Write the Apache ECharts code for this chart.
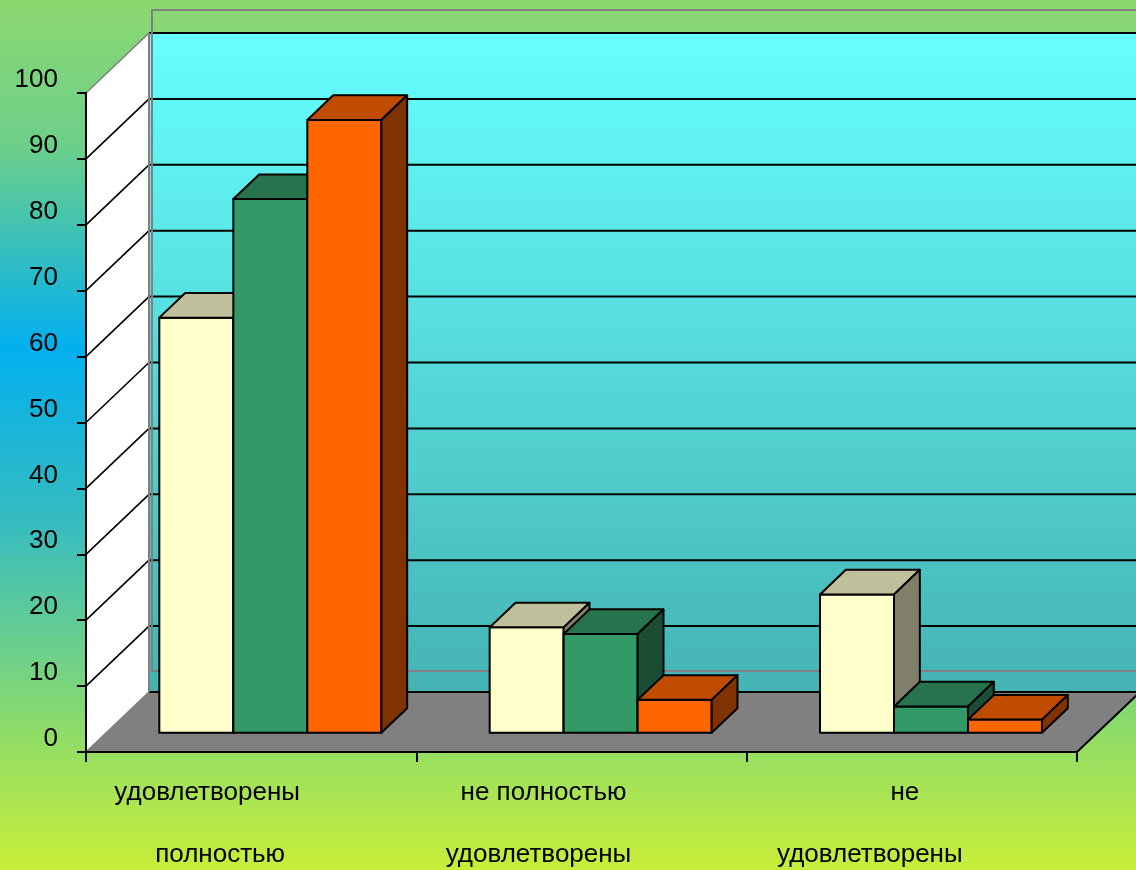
<!DOCTYPE html>
<html>
<head>
<meta charset="utf-8">
<script src="https://cdn.jsdelivr.net/npm/echarts@6/dist/echarts.min.js"></script>
<style>
  html, body { margin: 0; padding: 0; }
  #chart { width: 1136px; height: 870px; }
</style>
</head>
<body>
<div id="chart"></div>
<script>
// data
var categories = ['удовлетворены полностью', 'не полностью удовлетворены', 'не удовлетворены'];
var labelLines = [['удовлетворены', 'полностью'], ['не полностью', 'удовлетворены'], ['не', 'удовлетворены']];
var seriesNames = ['Ряд 1', 'Ряд 2', 'Ряд 3'];
var seriesA = [63, 16, 21];
var seriesB = [81, 15, 4];
var seriesC = [93, 5, 2];
var yTicks = [0, 10, 20, 30, 40, 50, 60, 70, 80, 90, 100];

// look
var FONT = '"Liberation Sans", Arial, sans-serif';
var DEPTH = [63, -60];      // floor depth vector
var FRONT = 0.32;           // where the bar fronts sit
var BAR_DEPTH = 0.41;       // bar thickness
var BAR_FRAC = 0.224;       // bar width / category width
var barColors = [
  { front: '#ffffcc', top: '#bfbf9c', side: '#80806a' },
  { front: '#339966', top: '#26734e', side: '#1b4d35' },
  { front: '#ff6600', top: '#bf4c00', side: '#803300' }
];
// horizontal nudge of each label line from the category centre (px)
var labelShift = [[-44, -31], [-38, -43], [-7, -42]];

var chart = echarts.init(document.getElementById('chart'));

var rich = {};
labelShift.forEach(function (pair, g) {
  pair.forEach(function (c, j) {
    rich['g' + g + 'l' + j] = {
      fontSize: 26, lineHeight: 62, color: '#000', fontFamily: FONT,
      padding: [0, c < 0 ? -2 * c : 0, 0, c > 0 ? 2 * c : 0]
    };
  });
});

function renderWalls(params, api) {
  var bw = api.size([1, 0])[0];
  var L = api.coord([0, 0])[0] - bw / 2;
  var R = api.coord([categories.length - 1, 0])[0] + bw / 2;
  var y0 = api.coord([0, 0])[1];
  var yTop = api.coord([0, 100])[1];
  var dx = DEPTH[0], dy = DEPTH[1];
  var kids = [];
  kids.push({
    type: 'rect',
    shape: { x: L + dx, y: yTop + dy, width: R - L + 10, height: y0 - yTop },
    style: { fill: { type: 'linear', x: 0, y: 0, x2: 0, y2: 1,
      colorStops: [{ offset: 0, color: '#66ffff' }, { offset: 1, color: '#45b3b3' }] } }
  });
  kids.push({
    type: 'polygon',
    shape: { points: [[L, y0], [L, yTop], [L + dx, yTop + dy], [L + dx, y0 + dy]] },
    style: { fill: '#ffffff' }
  });
  kids.push({
    type: 'polygon',
    shape: { points: [[L, y0], [R, y0], [R + dx, y0 + dy], [L + dx, y0 + dy]] },
    style: { fill: '#808080' }
  });
  yTicks.forEach(function (v) {
    var y = api.coord([0, v])[1];
    var edge = (v === 0 || v === 100);
    kids.push({
      type: 'line',
      shape: { x1: L, y1: y, x2: L + dx, y2: y + dy },
      style: { stroke: edge ? '#808080' : '#000', lineWidth: 1.6 }
    });
    kids.push({
      type: 'line',
      shape: { x1: L + dx, y1: y + dy, x2: R + dx + 10, y2: y + dy },
      style: { stroke: '#000', lineWidth: 2 }
    });
  });
  kids.push({
    type: 'line',
    shape: { x1: L + dx, y1: yTop + dy, x2: L + dx, y2: y0 + dy },
    style: { stroke: '#808080', lineWidth: 2 }
  });
  kids.push({
    type: 'line',
    shape: { x1: R, y1: y0, x2: R + dx, y2: y0 + dy },
    style: { stroke: '#000', lineWidth: 2 }
  });
  // plot area frame
  kids.push({
    type: 'rect',
    shape: { x: L + dx + 3, y: yTop + dy - 23, width: R - L + 20, height: y0 - yTop + 2 },
    style: { fill: 'none', stroke: '#808080', lineWidth: 2 }
  });
  return { type: 'group', children: kids };
}

function barRenderer(idx) {
  return function (params, api) {
    var k = api.value(0), v = api.value(1);
    var bw = api.size([1, 0])[0];
    var base = api.coord([k, 0]);
    var top = api.coord([k, v]);
    var fx = DEPTH[0] * FRONT, fy = DEPTH[1] * FRONT;
    var ddx = DEPTH[0] * BAR_DEPTH, ddy = DEPTH[1] * BAR_DEPTH;
    var w = bw * BAR_FRAC;
    var xl = base[0] + fx - 1.5 * w + idx * w - 1;
    var xr = xl + w;
    var yb = base[1] + fy, yt = top[1] + fy;
    var c = barColors[idx];
    function st(fill) {
      return { fill: fill, stroke: '#000', lineWidth: 2, lineJoin: 'round' };
    }
    return {
      type: 'group',
      children: [
        { type: 'rect', shape: { x: xl, y: yt, width: w, height: yb - yt }, style: st(c.front) },
        { type: 'polygon', shape: { points: [[xl, yt], [xr, yt], [xr + ddx, yt + ddy], [xl + ddx, yt + ddy]] }, style: st(c.top) },
        { type: 'polygon', shape: { points: [[xr, yt], [xr + ddx, yt + ddy], [xr + ddx, yb + ddy], [xr, yb]] }, style: st(c.side) }
      ]
    };
  };
}

function toData(arr) {
  return arr.map(function (v, k) { return [k, v]; });
}

var allSeries = [seriesA, seriesB, seriesC];
var series = [{
  type: 'custom', name: 'walls', renderItem: renderWalls, data: [[0, 0]],
  encode: { x: 0, y: 1 }, silent: true, z: 1
}];
allSeries.forEach(function (arr, i) {
  series.push({
    type: 'custom', name: seriesNames[i], renderItem: barRenderer(i),
    data: toData(arr), encode: { x: 0, y: 1 }, z: 2 + i
  });
});

chart.setOption({
  animation: false,
  backgroundColor: {
    type: 'linear', x: 0, y: 0, x2: 0, y2: 1,
    colorStops: [
      { offset: 0, color: '#8cd870' },
      { offset: 0.17, color: '#6ccf8a' },
      { offset: 0.4, color: '#02b0ee' },
      { offset: 0.6, color: '#36bcc0' },
      { offset: 0.85, color: '#92dd66' },
      { offset: 1, color: '#c8ee38' }
    ]
  },
  grid: { left: 86, right: 59, top: 93, bottom: 118 },
  xAxis: {
    type: 'category',
    data: categories,
    z: 10,
    axisLine: { lineStyle: { color: '#000', width: 2 } },
    axisTick: { show: true, length: 10, interval: 0, lineStyle: { color: '#000', width: 2 } },
    axisLabel: {
      interval: 0, margin: 10, rich: rich,
      formatter: function (value, index) {
        var lines = labelLines[index];
        return '{g' + index + 'l0|' + lines[0] + '}\n{g' + index + 'l1|' + lines[1] + '}';
      }
    },
    splitLine: { show: false }
  },
  yAxis: {
    type: 'value',
    min: 0, max: 100, interval: 10,
    z: 10,
    axisLine: { show: true, lineStyle: { color: '#000', width: 2 } },
    axisTick: { show: true, length: 9, lineStyle: { color: '#000', width: 2 } },
    axisLabel: {
      fontSize: 26, color: '#000', fontFamily: FONT, margin: 28,
      verticalAlign: 'bottom', lineHeight: 26
    },
    splitLine: { show: false }
  },
  series: series
});
</script>
</body>
</html>
